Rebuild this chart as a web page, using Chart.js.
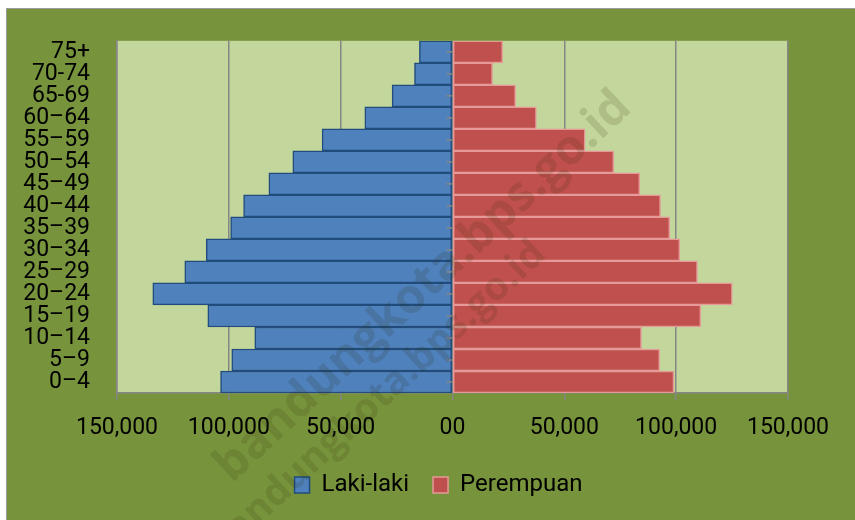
<!DOCTYPE html>
<html>
<head>
<meta charset="utf-8">
<script src="https://cdn.jsdelivr.net/npm/chart.js@4"></script>
<style>
  html, body { margin: 0; padding: 0; background: #ffffff; }
  #wrap { width: 855px; height: 520px; }
</style>
</head>
<body>
<div id="wrap"><canvas id="pyramid" width="855" height="520"></canvas></div>
<script>
// Age groups, top to bottom
const ageGroups = ['75+', '70-74', '65-69', '60\u201364', '55\u201359', '50\u201354', '45\u201349', '40\u201344',
  '35\u201339', '30\u201334', '25\u201329', '20\u201324', '15\u201319', '10\u201314', '5\u20139', '0\u20134'];

const maleValues = [14800, 17000, 27000, 39200, 58300, 71400, 82100, 93400,
  99200, 110100, 119700, 134000, 109400, 88400, 98700, 103700];
const femaleValues = [22400, 17900, 28200, 37500, 59300, 72100, 83700, 93000,
  97100, 101600, 109500, 125100, 111000, 84500, 92600, 99000];

const xTicks = [-150000, -100000, -50000, 0, 50000, 100000, 150000];

const watermark = 'bandungkota.bps.go.id';

const FONT = "Roboto, 'Open Sans', sans-serif";

// Backgrounds: outer frame, olive chart area, light green plot area
const backgroundPlugin = {
    id: 'bg',
    afterLayout(chart) {
        // legend sits centred on the whole frame, not on the plot
        chart.legend.left += 41;
        chart.legend.right += 41;
    },
    beforeDraw(chart) {
        const { ctx, chartArea: a, width, height } = chart;
        ctx.save();
        ctx.fillStyle = '#ffffff';
        ctx.fillRect(0, 0, width, height);
        ctx.fillStyle = '#77933c';
        ctx.fillRect(7, 9, width - 7, height - 9);
        ctx.strokeStyle = '#9a9a9a';
        ctx.lineWidth = 1;
        ctx.strokeRect(6.5, 8.5, width, height);
        ctx.fillStyle = '#c3d69b';
        ctx.fillRect(a.left, a.top, a.right - a.left, a.bottom - a.top);
        ctx.restore();
    },
    afterDatasetsDraw(chart) {
        // small tick marks on the centre axis
        const { ctx, scales } = chart;
        const x0 = scales.x.getPixelForValue(0);
        ctx.save();
        ctx.strokeStyle = '#868686';
        ctx.lineWidth = 1.5;
        ageGroups.forEach((g, i) => {
            const y = scales.y.getPixelForValue(i);
            ctx.beginPath();
            ctx.moveTo(x0 - 6, y);
            ctx.lineTo(x0, y);
            ctx.stroke();
        });
        ctx.restore();
    },
    afterDraw(chart) {
        // faint site watermark
        const { ctx } = chart;
        ctx.save();
        ctx.fillStyle = 'rgba(40, 40, 0, 0.14)';
        ctx.textAlign = 'right';
        ctx.textBaseline = 'middle';
        ctx.font = "bold 48px 'Open Sans', sans-serif";
        ctx.translate(624, 100);
        ctx.rotate(-0.75);
        ctx.fillText(watermark, 0, 0);
        ctx.restore();
        ctx.save();
        ctx.fillStyle = 'rgba(40, 40, 0, 0.14)';
        ctx.textAlign = 'right';
        ctx.textBaseline = 'middle';
        ctx.font = "bold 39px 'Open Sans', sans-serif";
        ctx.translate(540, 248);
        ctx.rotate(-0.75);
        ctx.fillText(watermark, 0, 0);
        ctx.restore();
    }
};

new Chart(document.getElementById('pyramid'), {
    type: 'bar',
    data: {
        labels: ageGroups,
        datasets: [
            {
                label: 'Laki-laki',
                data: maleValues.map(v => -v),
                backgroundColor: '#4f81bd',
                borderColor: '#214c7d',
                borderWidth: 1.5,
                borderSkipped: false,
                categoryPercentage: 1,
                barPercentage: 1
            },
            {
                label: 'Perempuan',
                data: femaleValues,
                backgroundColor: '#c0504d',
                borderColor: '#e59a98',
                borderWidth: 1.5,
                borderSkipped: false,
                categoryPercentage: 1,
                barPercentage: 1
            }
        ]
    },
    options: {
        indexAxis: 'y',
        responsive: false,
        animation: false,
        layout: { padding: { left: 7, top: 35, right: 67, bottom: 13 } },
        plugins: {
            tooltip: { enabled: false },
            legend: {
                position: 'bottom',
                labels: {
                    color: '#000000',
                    font: { family: FONT, size: 24 },
                    boxWidth: 15,
                    boxHeight: 16,
                    padding: 24
                }
            }
        },
        scales: {
            x: {
                stacked: true,
                min: -150000,
                max: 150000,
                afterBuildTicks: s => { s.ticks = xTicks.map(v => ({ value: v })); },
                afterFit: s => { s.height = 56; },
                grid: { color: '#868686', lineWidth: 1.5, tickLength: 7, drawTicks: true },
                border: { color: '#868686', width: 1.5 },
                ticks: {
                    color: '#000000',
                    font: { family: FONT, size: 23 },
                    padding: 14,
                    maxRotation: 0,
                    callback: v => v === 0 ? '00' : Math.abs(v).toLocaleString('en-US')
                }
            },
            y: {
                stacked: true,
                afterFit: s => { s.width = 110; },
                grid: { display: false, drawTicks: false },
                border: { color: '#868686', width: 1.5 },
                ticks: {
                    color: '#000000',
                    font: { family: FONT, size: 23 },
                    padding: 27,
                    autoSkip: false
                }
            }
        }
    },
    plugins: [backgroundPlugin]
});
</script>
</body>
</html>
